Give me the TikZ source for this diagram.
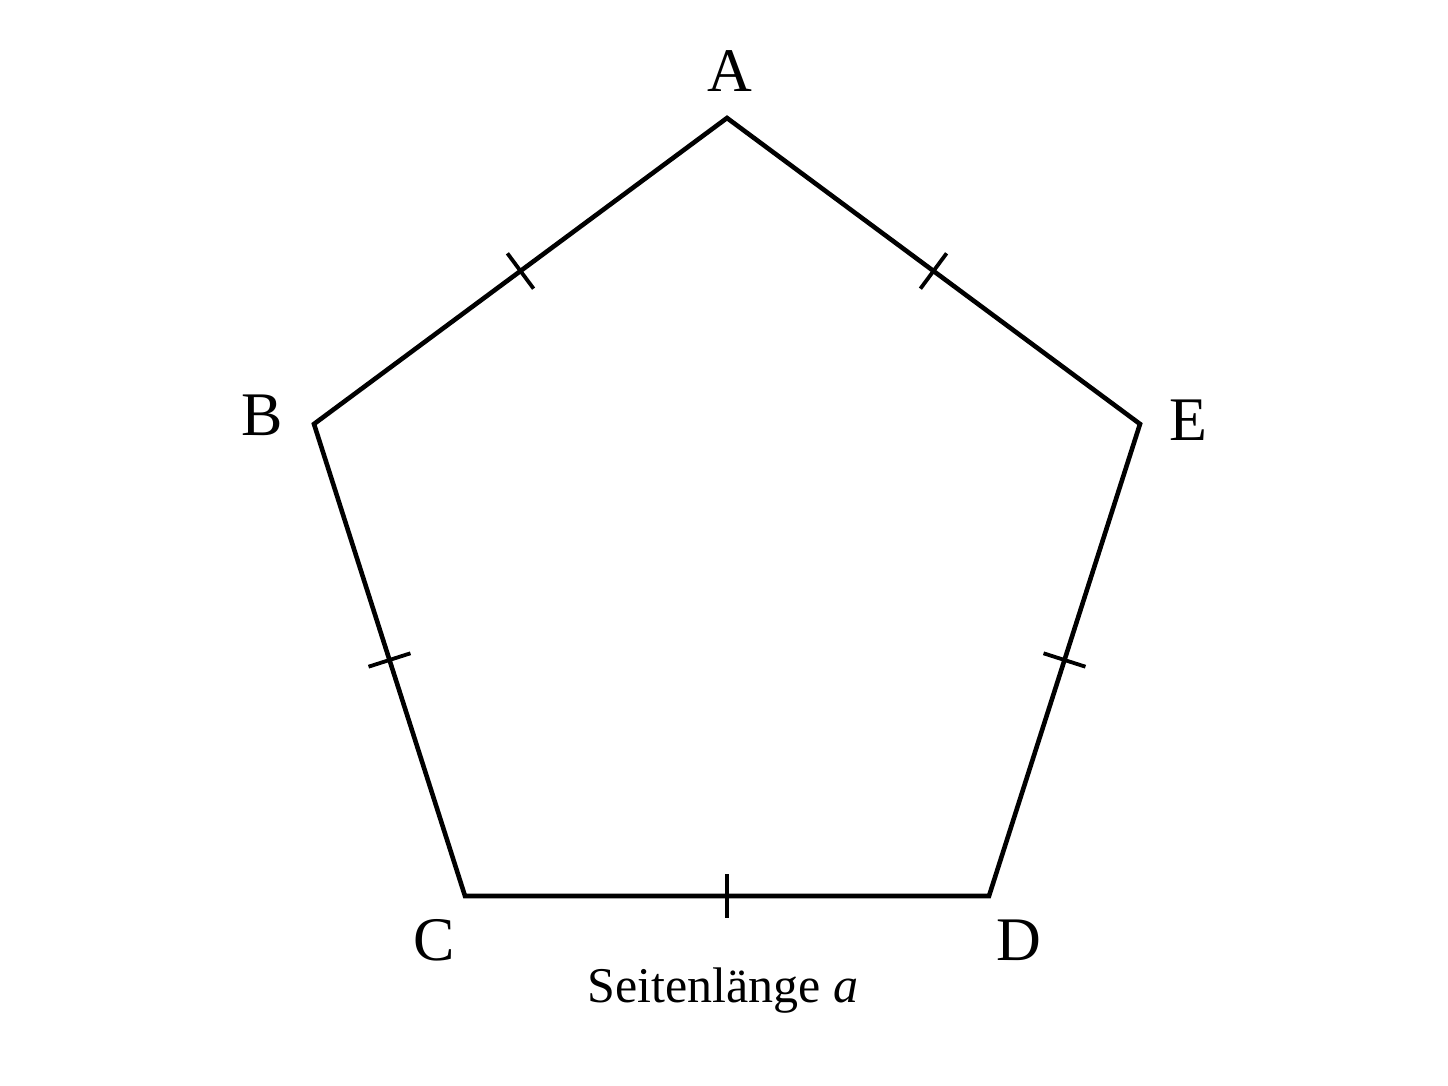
\documentclass[tikz,border=0pt]{standalone}
\usepackage{fontspec}
\setmainfont{Liberation Serif}
\usetikzlibrary{calc}
\begin{document}
\begin{tikzpicture}[x=0.5pt,y=-0.5pt,
  edge/.style={line width=2.3pt,line join=miter},
  tick/.style={line width=1.9pt},
  vlabel/.style={inner sep=0pt,anchor=base,font=\fontsize{31}{36}\selectfont},
  caplabel/.style={inner sep=0pt,anchor=base,font=\fontsize{25}{30}\selectfont}]
\useasboundingbox (0,0) rectangle (1448,1086);
\coordinate (A) at (727,118);
\coordinate (B) at (314,424);
\coordinate (C) at (465,896);
\coordinate (D) at (989,896);
\coordinate (E) at (1140,424);
\draw[edge] (A) -- (B) -- (C) -- (D) -- (E) -- cycle;
\foreach \p/\q/\n in {A/B/1,B/C/2,C/D/3,D/E/4,E/A/5}{
  \coordinate (M\n) at ($(\p)!0.5!(\q)$);
  \draw[tick] ($(M\n)!11pt!90:(\q)$) -- ($(M\n)!11pt!-90:(\q)$);
}
\node[vlabel] (lA) at (730,92) {A};
\node[vlabel] (lB) at (262,436) {B};
\node[vlabel] (lE) at (1188,440) {E};
\node[vlabel] (lC) at (434,960) {C};
\node[vlabel] (lD) at (1019,960) {D};
\node[caplabel] (cap) at (723,1002) {Seitenlänge \textit{a}};
\end{tikzpicture}
\end{document}
